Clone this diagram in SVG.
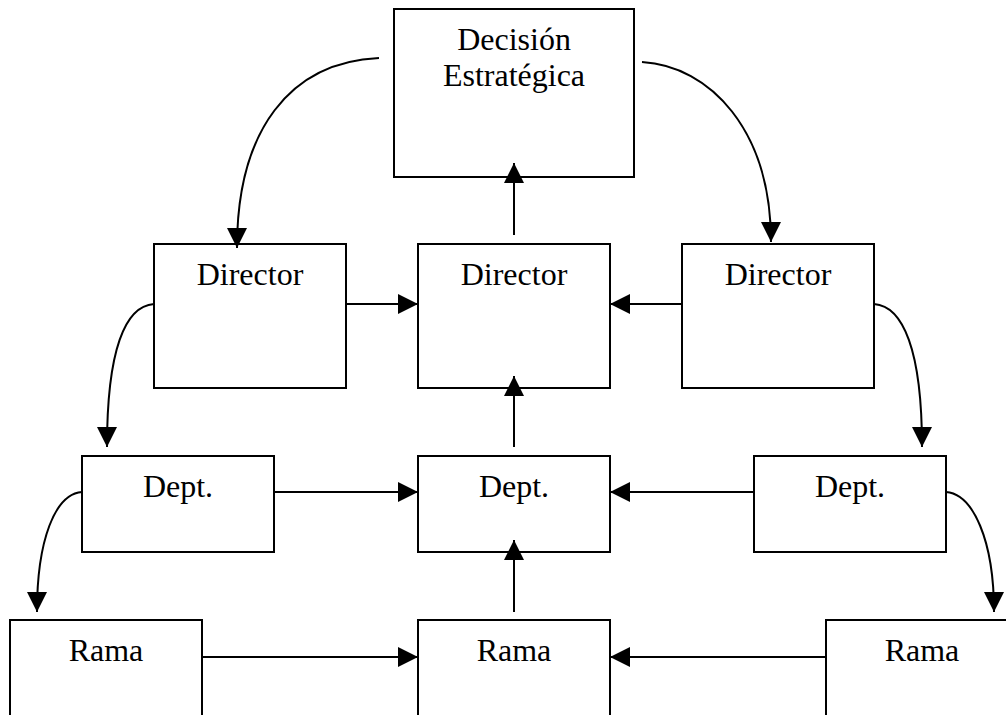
<svg xmlns="http://www.w3.org/2000/svg" width="1006" height="715" viewBox="0 0 1006 715">
  <style>
    .box { fill: #fff; stroke: #000; stroke-width: 2; }
    .lbl { font-family: "Liberation Serif", "Times New Roman", serif; font-size: 32px; fill: #000; text-anchor: middle; }
    .edge { fill: none; stroke: #000; stroke-width: 2; marker-end: url(#arrow); }
  </style>
  <defs>
    <marker id="arrow" markerUnits="userSpaceOnUse" markerWidth="20" markerHeight="20" refX="20" refY="10" orient="auto" viewBox="0 0 20 20">
      <path d="M0,0 L20,10 L0,20 z" fill="#000"/>
    </marker>
  </defs>
  <rect width="1006" height="715" fill="#fff"/>

  <g id="decision">
    <rect class="box" x="394" y="9" width="240" height="168"/>
    <text class="lbl" x="514" y="50">Decisión</text>
    <text class="lbl" x="514" y="86">Estratégica</text>
  </g>

  <g id="director-left">
    <rect class="box" x="154" y="244" width="192" height="144"/>
    <text class="lbl" x="250" y="285">Director</text>
  </g>
  <g id="director-center">
    <rect class="box" x="418" y="244" width="192" height="144"/>
    <text class="lbl" x="514" y="285">Director</text>
  </g>
  <g id="director-right">
    <rect class="box" x="682" y="244" width="192" height="144"/>
    <text class="lbl" x="778" y="285">Director</text>
  </g>

  <g id="dept-left">
    <rect class="box" x="82" y="456" width="192" height="96"/>
    <text class="lbl" x="178" y="497">Dept.</text>
  </g>
  <g id="dept-center">
    <rect class="box" x="418" y="456" width="192" height="96"/>
    <text class="lbl" x="514" y="497">Dept.</text>
  </g>
  <g id="dept-right">
    <rect class="box" x="754" y="456" width="192" height="96"/>
    <text class="lbl" x="850" y="497">Dept.</text>
  </g>

  <g id="rama-left">
    <rect class="box" x="10" y="620" width="192" height="110"/>
    <text class="lbl" x="106" y="661">Rama</text>
  </g>
  <g id="rama-center">
    <rect class="box" x="418" y="620" width="192" height="110"/>
    <text class="lbl" x="514" y="661">Rama</text>
  </g>
  <g id="rama-right">
    <rect class="box" x="826" y="620" width="192" height="110"/>
    <text class="lbl" x="922" y="661">Rama</text>
  </g>

  <g id="connectors">
    <!-- strategic decision fans out to the side directors -->
    <path class="edge" d="M379,58 C290,62 237,130 237,248"/>
    <path class="edge" d="M642,62 C710,66 771,130 771,242"/>
    <!-- upward flow along the central column -->
    <path class="edge" d="M514,235 L514,163"/>
    <path class="edge" d="M514,447 L514,376"/>
    <path class="edge" d="M514,612 L514,540"/>
    <!-- side nodes feed the central column -->
    <path class="edge" d="M346,304 L418,304"/>
    <path class="edge" d="M682,304 L610,304"/>
    <path class="edge" d="M274,492 L418,492"/>
    <path class="edge" d="M754,492 L610,492"/>
    <path class="edge" d="M202,657 L418,657"/>
    <path class="edge" d="M826,657 L610,657"/>
    <!-- outer cascades down each side -->
    <path class="edge" d="M154,304 C125,306 107,350 107,447"/>
    <path class="edge" d="M82,492 C55,494 37,540 37,612"/>
    <path class="edge" d="M874,304 C903,306 922,350 922,447"/>
    <path class="edge" d="M946,492 C973,494 994,540 994,612"/>
  </g>
</svg>
